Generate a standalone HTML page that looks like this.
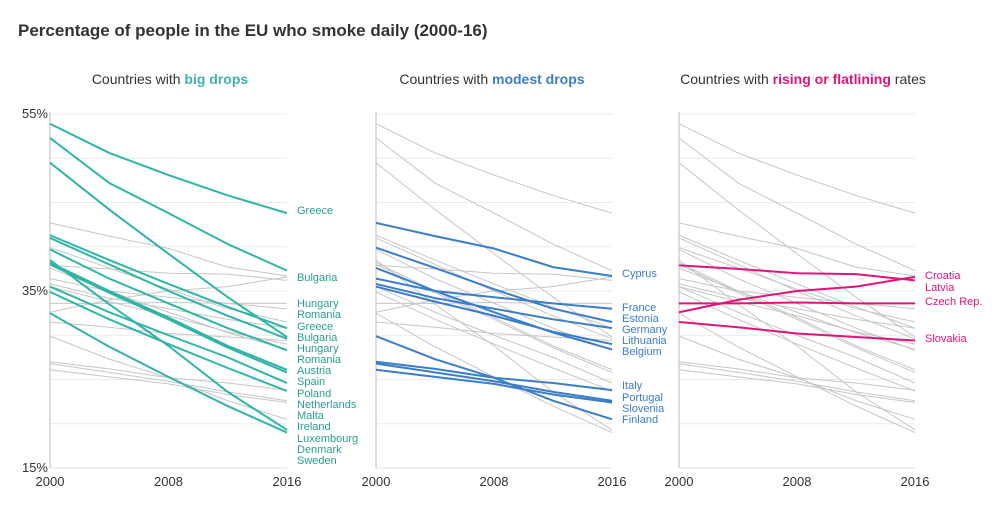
<!DOCTYPE html>
<html><head><meta charset="utf-8">
<style>
body{margin:0;background:#fff;font-family:"Liberation Sans",sans-serif;}
#wrap{position:relative;width:1000px;height:512px;overflow:hidden;}
</style></head>
<body>
<div id="wrap">
<svg id="chart" width="1000" height="512">
<text x="18" y="36" font-size="17" font-weight="bold" fill="#333">Percentage of people in the EU who smoke daily (2000-16)</text>
<text x="170" y="84" font-size="14" fill="#333" text-anchor="middle">Countries with <tspan font-weight="bold" fill="#3fb5a5">big drops</tspan></text>
<text x="492" y="84" font-size="14" fill="#333" text-anchor="middle">Countries with <tspan font-weight="bold" fill="#3a7dc9">modest drops</tspan></text>
<text x="803" y="84" font-size="14" fill="#333" text-anchor="middle">Countries with <tspan font-weight="bold" fill="#e0157a">rising or flatlining</tspan> rates</text>
</svg>
</div>
<script>
const years = [2000, 2004, 2008, 2012, 2016];
const yTicks = [15, 20, 25, 30, 35, 40, 45, 50, 55];
const yTickLabels = ["15%", "35%", "55%"];
const xTickLabels = ["2000", "2008", "2016"];
const bigDrops = [
 [53.9, 50.6, 48.1, 45.8, 43.8],
 [52.3, 47.2, 43.8, 40.3, 37.3],
 [49.5, 44.2, 39.2, 34.3, 29.8],
 [41.3, 38.5, 35.8, 33.2, 30.8],
 [41.0, 38.0, 35.0, 32.2, 29.6],
 [39.7, 36.4, 33.6, 30.8, 28.3],
 [38.5, 33.5, 28.8, 23.6, 19.3],
 [38.2, 35.0, 32.0, 28.8, 26.1],
 [38.0, 34.8, 31.8, 28.6, 25.8],
 [35.5, 32.6, 30.0, 27.5, 24.6],
 [34.9, 31.8, 29.0, 26.3, 23.7],
 [32.5, 28.7, 25.3, 22.0, 19.0]
];
const modestDrops = [
 [42.7, 41.2, 39.8, 37.7, 36.7],
 [39.9, 37.6, 35.2, 33.0, 31.5],
 [37.6, 35.0, 32.6, 30.3, 28.4],
 [36.4, 35.0, 34.3, 33.6, 33.0],
 [35.8, 34.2, 33.0, 31.8, 30.8],
 [35.5, 33.8, 32.2, 30.4, 29.0],
 [29.9, 27.3, 25.2, 22.6, 20.5],
 [27.0, 26.2, 25.2, 24.6, 23.8],
 [26.8, 25.8, 24.8, 23.6, 22.6],
 [26.1, 25.3, 24.5, 23.3, 22.4]
];
const rising = [
 [37.9, 37.5, 37.0, 36.9, 36.2],
 [32.6, 34.0, 35.0, 35.5, 36.6],
 [33.6, 33.6, 33.7, 33.6, 33.6],
 [31.5, 30.9, 30.2, 29.8, 29.4]
];
const labels1 = ["Greece","Bulgaria","Hungary","Romania","Greece","Bulgaria","Hungary","Romania","Austria","Spain","Poland","Netherlands","Malta","Ireland","Luxembourg","Denmark","Sweden"];
const labelY1 = [210,277,303,314,326,337,348,359,370,381,393,404,415,426,438,449,460];
const labels2 = ["Cyprus","France","Estonia","Germany","Lithuania","Belgium","Italy","Portugal","Slovenia","Finland"];
const labelY2 = [273,307,318,329,340,351,385,397,408,419];
const labels3 = ["Croatia","Latvia","Czech Rep.","Slovakia"];
const labelY3 = [275,287,301,338];

const svg = document.getElementById('chart');
const NS = 'http://www.w3.org/2000/svg';
const yScale = v => 114 + (55 - v) * (354 / 40);
const all = bigDrops.concat(modestDrops, rising);
const panels = [
 {x0:50, x1:287, data:bigDrops, color:'#2fb5a6', lc:'#2a9d8f', labels:labels1, ly:labelY1, name:'big-drops', axis:true},
 {x0:376, x1:612, data:modestDrops, color:'#3a7dc9', lc:'#3a7dc9', labels:labels2, ly:labelY2, name:'modest-drops'},
 {x0:679, x1:915, data:rising, color:'#e0157a', lc:'#e0157a', labels:labels3, ly:labelY3, name:'rising'}
];
function mk(tag, attrs){const e=document.createElementNS(NS,tag);for(const k in attrs)e.setAttribute(k,attrs[k]);svg.appendChild(e);return e;}
panels.forEach(p=>{
 const xs = yr => p.x0 + (yr - 2000) / 16 * (p.x1 - p.x0);
 yTicks.forEach(t=>{
  const g = mk('line',{x1:p.x0,x2:p.x1,y1:yScale(t),y2:yScale(t),stroke:'#ebebeb','stroke-width':1});
  
  
 });
 const ax = mk('line',{x1:p.x0,x2:p.x0,y1:112,y2:468,stroke:'#bbb','stroke-width':1});
 
 
 const bx = mk('line',{x1:p.x0,x2:p.x1,y1:468,y2:468,stroke:'#e0e0e0','stroke-width':1});
 
 
 xTickLabels.forEach(l=>{
  const t = mk('text',{x:xs(+l),y:486,'font-size':13,fill:'#333','text-anchor':'middle'});
  t.textContent = l;
  
  
 });
 if(p.axis){
  yTickLabels.forEach(l=>{
   const t = mk('text',{x:p.x0-2,y:yScale(parseFloat(l))+4,'font-size':13,fill:'#333','text-anchor':'end'});
   t.textContent = l;
   
   
  });
 }
 all.forEach(s=>{
  if(p.data.includes(s)) return;
  const pl = mk('polyline',{points:s.map((v,i)=>xs(years[i])+','+yScale(v)).join(' '),fill:'none',stroke:'#c6c6c6','stroke-width':1});
  
  
 });
 p.data.forEach(s=>{
  const pl = mk('polyline',{points:s.map((v,i)=>xs(years[i])+','+yScale(v)).join(' '),fill:'none',stroke:p.color,'stroke-width':2});
  
  
 });
 p.labels.forEach((l,i)=>{
  const t = mk('text',{x:p.x1+10,y:p.ly[i]+4,'font-size':11,fill:p.lc});
  t.textContent = l;
  
  
 });
});
</script>
</body></html>
